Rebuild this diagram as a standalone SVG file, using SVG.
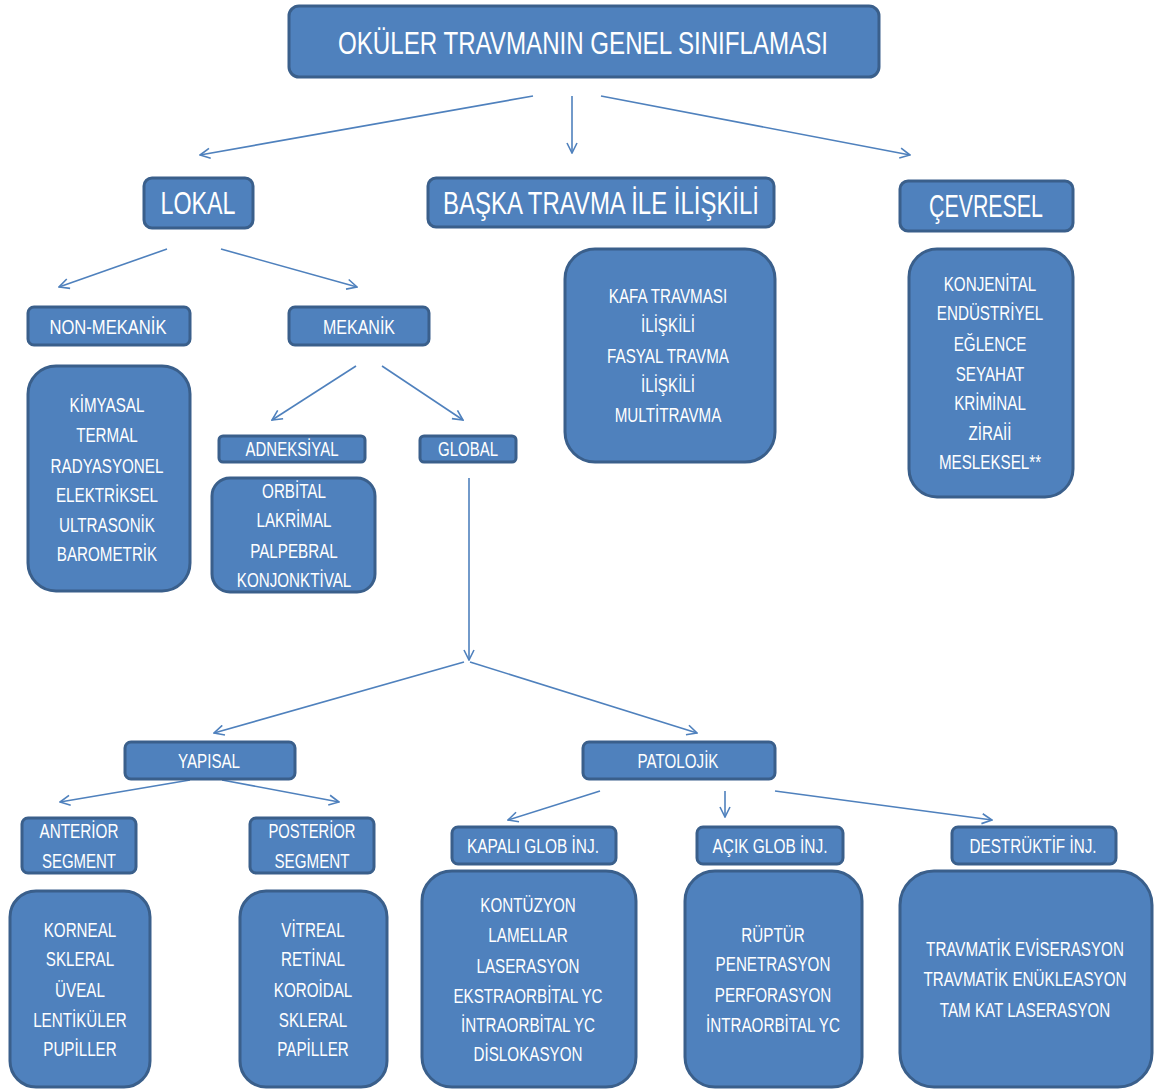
<svg xmlns="http://www.w3.org/2000/svg" width="1155" height="1090" viewBox="0 0 1155 1090">
<defs>
<marker id="ah" viewBox="0 0 12 12" refX="11" refY="6" markerWidth="12" markerHeight="12" markerUnits="userSpaceOnUse" orient="auto">
<path d="M1,1 L11,6 L1,11" fill="none" stroke="#4F81BD" stroke-width="1.6"/>
</marker>
</defs>
<style>
.b{fill:#4F81BD;stroke:#3A5F8B;stroke-width:3}
text{font-family:"Liberation Sans",Arial,sans-serif;fill:#FFFFFF;text-anchor:middle}
.t1{font-size:32px}
.t2{font-size:31px}
.t3{font-size:20px}
.t4{font-size:20px}
.c{fill:none;stroke:#4F81BD;stroke-width:1.6;marker-end:url(#ah)}
</style>
<rect width="1155" height="1090" fill="#FFFFFF"/>
<g id="connectors">
<line class="c" x1="533" y1="96" x2="200" y2="155"/>
<line class="c" x1="572" y1="96" x2="572" y2="153"/>
<line class="c" x1="601" y1="96" x2="910" y2="155"/>
<line class="c" x1="167" y1="249" x2="59" y2="287"/>
<line class="c" x1="221" y1="249" x2="357" y2="287"/>
<line class="c" x1="356" y1="366" x2="272" y2="420"/>
<line class="c" x1="382" y1="366" x2="463" y2="420"/>
<line class="c" x1="469" y1="478" x2="469" y2="660"/>
<line class="c" x1="464" y1="662" x2="214" y2="733"/>
<line class="c" x1="470" y1="662" x2="697" y2="733"/>
<line class="c" x1="190" y1="780" x2="60" y2="802"/>
<line class="c" x1="222" y1="780" x2="339" y2="802"/>
<line class="c" x1="600" y1="791" x2="508" y2="820"/>
<line class="c" x1="725" y1="791" x2="725" y2="817"/>
<line class="c" x1="775" y1="791" x2="992" y2="820"/>
</g>
<g id="title"><rect class="b" x="289" y="6" width="590" height="71" rx="10"/><text class="t1" x="583" y="54" textLength="490" lengthAdjust="spacingAndGlyphs">OKÜLER TRAVMANIN GENEL SINIFLAMASI</text></g>
<g id="lokal"><rect class="b" x="144" y="178" width="109" height="50" rx="8"/><text class="t2" x="198" y="214" textLength="75" lengthAdjust="spacingAndGlyphs">LOKAL</text></g>
<g id="baska"><rect class="b" x="428" y="178" width="346" height="49" rx="8"/><text class="t2" x="601" y="214" textLength="316" lengthAdjust="spacingAndGlyphs">BAŞKA TRAVMA İLE İLİŞKİLİ</text></g>
<g id="cevresel"><rect class="b" x="900" y="181" width="173" height="50" rx="8"/><text class="t2" x="986" y="217" textLength="114" lengthAdjust="spacingAndGlyphs">ÇEVRESEL</text></g>
<g id="nonmekanik"><rect class="b" x="28" y="307" width="162" height="38" rx="6"/><text class="t3" x="108" y="334" textLength="117" lengthAdjust="spacingAndGlyphs">NON-MEKANİK</text></g>
<g id="mekanik"><rect class="b" x="289" y="307" width="140" height="38" rx="6"/><text class="t3" x="359" y="334" textLength="72" lengthAdjust="spacingAndGlyphs">MEKANİK</text></g>
<g id="nonmek-list"><rect class="b" x="28" y="366" width="162" height="225" rx="28"/>
<g transform="translate(107,0) scale(0.76,1)"><text class="t4" x="0" y="412">KİMYASAL</text><text class="t4" x="0" y="442">TERMAL</text><text class="t4" x="0" y="473">RADYASYONEL</text><text class="t4" x="0" y="502">ELEKTRİKSEL</text><text class="t4" x="0" y="532">ULTRASONİK</text><text class="t4" x="0" y="561">BAROMETRİK</text></g></g>
<g id="adneksiyal"><rect class="b" x="219" y="436" width="146" height="26" rx="4"/><text class="t3" x="292" y="456" textLength="93" lengthAdjust="spacingAndGlyphs">ADNEKSİYAL</text></g>
<g id="global"><rect class="b" x="420" y="436" width="96" height="26" rx="4"/><text class="t3" x="468" y="456" textLength="60" lengthAdjust="spacingAndGlyphs">GLOBAL</text></g>
<g id="adneks-list"><rect class="b" x="212" y="478" width="163" height="114" rx="18"/>
<g transform="translate(294,0) scale(0.76,1)"><text class="t4" x="0" y="498">ORBİTAL</text><text class="t4" x="0" y="527">LAKRİMAL</text><text class="t4" x="0" y="558">PALPEBRAL</text><text class="t4" x="0" y="587">KONJONKTİVAL</text></g></g>
<g id="baska-list"><rect class="b" x="565" y="249" width="210" height="213" rx="30"/>
<g transform="translate(668,0) scale(0.76,1)"><text class="t4" x="0" y="303">KAFA TRAVMASI</text><text class="t4" x="0" y="332">İLİŞKİLİ</text><text class="t4" x="0" y="363">FASYAL TRAVMA</text><text class="t4" x="0" y="392">İLİŞKİLİ</text><text class="t4" x="0" y="422">MULTİTRAVMA</text></g></g>
<g id="cevresel-list"><rect class="b" x="909" y="249" width="164" height="248" rx="28"/>
<g transform="translate(990,0) scale(0.76,1)"><text class="t4" x="0" y="291">KONJENİTAL</text><text class="t4" x="0" y="320">ENDÜSTRİYEL</text><text class="t4" x="0" y="351">EĞLENCE</text><text class="t4" x="0" y="381">SEYAHAT</text><text class="t4" x="0" y="410">KRİMİNAL</text><text class="t4" x="0" y="440">ZİRAİİ</text><text class="t4" x="0" y="469">MESLEKSEL**</text></g></g>
<g id="yapisal"><rect class="b" x="125" y="742" width="170" height="37" rx="6"/><text class="t3" x="209" y="768" textLength="62" lengthAdjust="spacingAndGlyphs">YAPISAL</text></g>
<g id="patolojik"><rect class="b" x="583" y="742" width="192" height="37" rx="6"/><text class="t3" x="678" y="768" textLength="81" lengthAdjust="spacingAndGlyphs">PATOLOJİK</text></g>
<g id="anterior"><rect class="b" x="22" y="818" width="114" height="55" rx="6"/><text class="t3" x="79" y="838" textLength="79" lengthAdjust="spacingAndGlyphs">ANTERİOR</text><text class="t3" x="79" y="868" textLength="74" lengthAdjust="spacingAndGlyphs">SEGMENT</text></g>
<g id="posterior"><rect class="b" x="250" y="818" width="124" height="55" rx="6"/><text class="t3" x="312" y="838" textLength="87" lengthAdjust="spacingAndGlyphs">POSTERİOR</text><text class="t3" x="312" y="868" textLength="75" lengthAdjust="spacingAndGlyphs">SEGMENT</text></g>
<g id="kapali"><rect class="b" x="452" y="827" width="164" height="37" rx="6"/><text class="t3" x="533" y="853" textLength="132" lengthAdjust="spacingAndGlyphs">KAPALI GLOB İNJ.</text></g>
<g id="acik"><rect class="b" x="697" y="827" width="146" height="37" rx="6"/><text class="t3" x="770" y="853" textLength="115" lengthAdjust="spacingAndGlyphs">AÇIK GLOB İNJ.</text></g>
<g id="destruktif"><rect class="b" x="952" y="827" width="164" height="37" rx="6"/><text class="t3" x="1033" y="853" textLength="127" lengthAdjust="spacingAndGlyphs">DESTRÜKTİF İNJ.</text></g>
<g id="anterior-list"><rect class="b" x="10" y="891" width="140" height="196" rx="26"/>
<g transform="translate(80,0) scale(0.76,1)"><text class="t4" x="0" y="937">KORNEAL</text><text class="t4" x="0" y="966">SKLERAL</text><text class="t4" x="0" y="997">ÜVEAL</text><text class="t4" x="0" y="1027">LENTİKÜLER</text><text class="t4" x="0" y="1056">PUPİLLER</text></g></g>
<g id="posterior-list"><rect class="b" x="240" y="891" width="147" height="196" rx="26"/>
<g transform="translate(313,0) scale(0.76,1)"><text class="t4" x="0" y="937">VİTREAL</text><text class="t4" x="0" y="966">RETİNAL</text><text class="t4" x="0" y="997">KOROİDAL</text><text class="t4" x="0" y="1027">SKLERAL</text><text class="t4" x="0" y="1056">PAPİLLER</text></g></g>
<g id="kapali-list"><rect class="b" x="422" y="871" width="214" height="216" rx="30"/>
<g transform="translate(528,0) scale(0.76,1)"><text class="t4" x="0" y="912">KONTÜZYON</text><text class="t4" x="0" y="942">LAMELLAR</text><text class="t4" x="0" y="973">LASERASYON</text><text class="t4" x="0" y="1003">EKSTRAORBİTAL YC</text><text class="t4" x="0" y="1032">İNTRAORBİTAL YC</text><text class="t4" x="0" y="1061">DİSLOKASYON</text></g></g>
<g id="acik-list"><rect class="b" x="685" y="871" width="177" height="216" rx="30"/>
<g transform="translate(773,0) scale(0.76,1)"><text class="t4" x="0" y="942">RÜPTÜR</text><text class="t4" x="0" y="971">PENETRASYON</text><text class="t4" x="0" y="1002">PERFORASYON</text><text class="t4" x="0" y="1032">İNTRAORBİTAL YC</text></g></g>
<g id="destruktif-list"><rect class="b" x="900" y="871" width="252" height="216" rx="34"/>
<g transform="translate(1025,0) scale(0.76,1)"><text class="t4" x="0" y="956">TRAVMATİK EVİSERASYON</text><text class="t4" x="0" y="986">TRAVMATİK ENÜKLEASYON</text><text class="t4" x="0" y="1017">TAM KAT LASERASYON</text></g></g>
</svg>
